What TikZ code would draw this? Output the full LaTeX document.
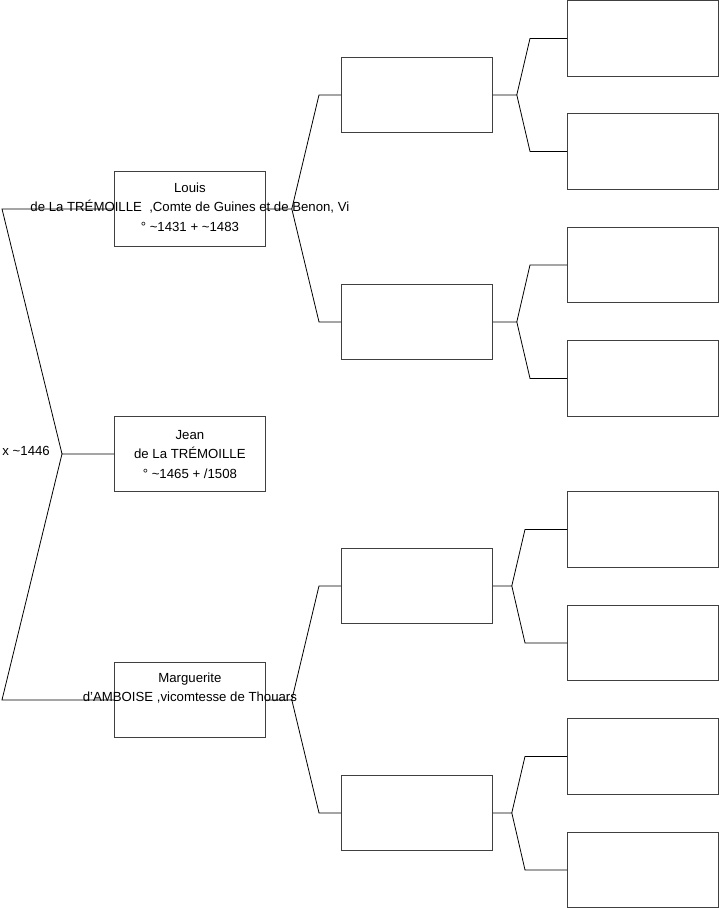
\documentclass[tikz,border=0pt]{standalone}
\usepackage{fontspec}
\setmainfont{Liberation Sans}
\begin{document}
\begin{tikzpicture}[x=1pt,y=-1pt,
  pbox/.style={draw=black!75, line width=0.8pt, minimum width=151pt, minimum height=75pt, inner sep=0pt, anchor=north west},
  ptext/.style={align=center, inner sep=0pt, font=\fontsize{13.2pt}{19.6pt}\selectfont},
  conn/.style={draw=black, line width=0.8pt}]
\useasboundingbox (0,0) rectangle (719,908);
% generation 1
\node[pbox] (louis) at (114,171) {};
\node[pbox] (jean) at (114,416) {};
\node[pbox] (marg) at (114,662) {};
\node[ptext] (louist) at ([yshift=2pt]louis.center) {Louis\\de La TRÉMOILLE\ \ ,Comte de Guines et de Benon, Vi\\° \textasciitilde1431 + \textasciitilde1483};
\node[ptext] (jeant) at ([yshift=-0.5pt]jean.center) {Jean\\de La TRÉMOILLE\\° \textasciitilde1465 + /1508};
\node[ptext] (margt) at ([yshift=12pt]marg.center) {Marguerite\\d'AMBOISE ,vicomtesse de Thouars};
% generation 2
\node[pbox] (a) at (341,57) {};
\node[pbox] (b) at (341,284) {};
\node[pbox] (c) at (341,548) {};
\node[pbox] (d) at (341,775) {};
% generation 3
\node[pbox, minimum height=76pt] (a1) at (567,0) {};
\node[pbox, minimum height=76pt] (a2) at (567,113) {};
\node[pbox] (b1) at (567,227) {};
\node[pbox, minimum height=76pt] (b2) at (567,340) {};
\node[pbox, minimum height=76pt] (c1) at (567,491) {};
\node[pbox] (c2) at (567,605) {};
\node[pbox, minimum height=76pt] (d1) at (567,718) {};
\node[pbox] (d2) at (567,832) {};
% junction coordinates
\coordinate (j0) at ([xshift=-52pt]jean.west);
\coordinate (jl) at ([xshift=26pt]louis.east);
\coordinate (jm) at ([xshift=26pt]marg.east);
\coordinate (ja) at ([xshift=24pt]a.east);
\coordinate (jb) at ([xshift=24pt]b.east);
\coordinate (jc) at ([xshift=19pt]c.east);
\coordinate (jd) at ([xshift=19pt]d.east);
% label
\node[ptext, anchor=east] (mar) at (50,451) {x \textasciitilde1446};
% connectors gen1
\draw[conn] (louis.west) -- ([xshift=-112pt]louis.west) -- (j0) -- (jean.west);
\draw[conn] (j0) -- ([xshift=-112pt]marg.west) -- (marg.west);
% connectors gen2
\draw[conn] (louis.east) -- (jl) -- ([xshift=-22pt]a.west) -- (a.west);
\draw[conn] (jl) -- ([xshift=-22pt]b.west) -- (b.west);
\draw[conn] (marg.east) -- (jm) -- ([xshift=-22pt]c.west) -- (c.west);
\draw[conn] (jm) -- ([xshift=-22pt]d.west) -- (d.west);
% connectors gen3
\draw[conn] (a.east) -- (ja) -- ([xshift=-37pt]a1.west) -- (a1.west);
\draw[conn] (ja) -- ([xshift=-37pt]a2.west) -- (a2.west);
\draw[conn] (b.east) -- (jb) -- ([xshift=-37pt]b1.west) -- (b1.west);
\draw[conn] (jb) -- ([xshift=-37pt]b2.west) -- (b2.west);
\draw[conn] (c.east) -- (jc) -- ([xshift=-42pt]c1.west) -- (c1.west);
\draw[conn] (jc) -- ([xshift=-42pt]c2.west) -- (c2.west);
\draw[conn] (d.east) -- (jd) -- ([xshift=-42pt]d1.west) -- (d1.west);
\draw[conn] (jd) -- ([xshift=-42pt]d2.west) -- (d2.west);
\end{tikzpicture}
\end{document}
